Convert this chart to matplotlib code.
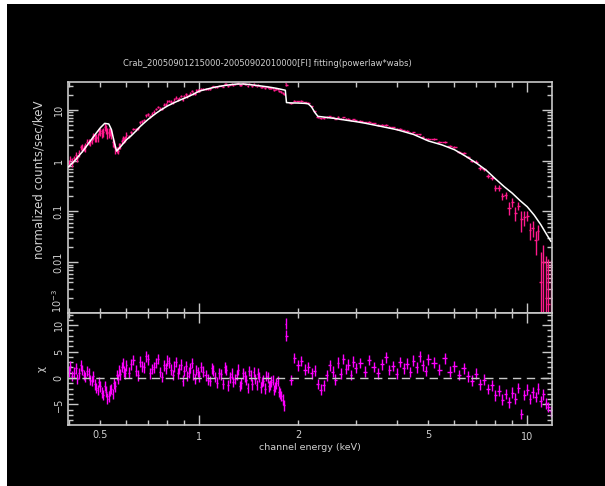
import numpy as np
import matplotlib.pyplot as plt
from matplotlib.patches import Rectangle
from matplotlib.ticker import FixedLocator, FixedFormatter, FuncFormatter, MultipleLocator

# spectral bins (keV)
energy = [0.40, 0.41, 0.42, 0.43, 0.44, 0.45, 0.46, 0.47, 0.48, 0.49, 0.50, 0.51, 0.52, 0.53, 0.54,
          0.55, 0.56, 0.57, 0.58, 0.59, 0.60,
          0.62, 0.64, 0.66, 0.68, 0.70, 0.72, 0.74, 0.76, 0.78, 0.80, 0.82, 0.84, 0.86, 0.88, 0.90,
          0.92, 0.94, 0.96, 0.98, 1.00,
          1.03, 1.06, 1.09, 1.12, 1.15, 1.18, 1.21, 1.24, 1.27, 1.30, 1.33, 1.36, 1.39, 1.42, 1.45,
          1.48, 1.51, 1.54, 1.57, 1.60, 1.63, 1.66, 1.69, 1.72, 1.75, 1.78, 1.81, 1.835, 1.845,
          1.90, 1.95, 2.00, 2.05, 2.10, 2.15, 2.20, 2.25, 2.30, 2.35, 2.40, 2.45, 2.50, 2.55, 2.60,
          2.65, 2.70, 2.75, 2.80, 2.85, 2.90, 2.95, 3.00,
          3.1, 3.2, 3.3, 3.4, 3.5, 3.6, 3.7, 3.8, 3.9, 4.0, 4.1, 4.2, 4.3, 4.4, 4.5, 4.6, 4.7, 4.8,
          4.9, 5.0,
          5.2, 5.4, 5.6, 5.8, 6.0, 6.2, 6.4, 6.6, 6.8, 7.0, 7.2, 7.4, 7.6, 7.8, 8.0, 8.2, 8.4, 8.6,
          8.8, 9.0, 9.2, 9.4, 9.6, 9.8, 10.0, 10.2, 10.4, 10.6, 10.8, 11.0, 11.2, 11.4, 11.6, 11.8]

# normalized counts/sec/keV
flux = [0.89, 0.95, 1.31, 1.41, 1.82, 1.85, 2.38, 2.49, 2.82, 2.96, 3.78, 3.70, 4.25, 3.63, 3.33,
        2.18, 1.64, 2.00, 2.42, 2.58, 3.22,
        3.66, 4.17, 5.72, 6.38, 8.22, 8.50, 10.4, 10.55, 12.7, 14.8, 14.5, 16.2, 15.9, 18.8, 18.5,
        18.5, 21.5, 21.5, 24.3, 24.0,
        25.8, 25.7, 28.9, 28.5, 30.1, 28.8, 32.4, 31.5, 31.1, 33.1, 30.8, 33.5, 31.8, 33.2, 29.9,
        30.5, 31.0, 27.9, 28.8, 29.2, 26.7, 27.1, 25.1, 25.8, 23.7, 22.5, 20.5, 33.5, 31.0,
        13.6, 15.3, 14.7, 15.0, 14.1, 14.0, 11.8, 9.4, 7.25, 6.87, 6.95, 7.26, 7.5, 7.15, 6.74,
        7.28, 6.71, 7.15, 6.62, 6.67, 6.21, 6.56, 6.24,
        6.18, 5.70, 5.84, 5.42, 5.03, 5.07, 5.08, 4.60, 4.54, 4.20, 4.28, 3.97, 3.89, 3.56, 3.63,
        3.31, 3.30, 2.98, 2.70, 2.71,
        2.63, 2.30, 2.33, 1.92, 1.83, 1.51, 1.43, 1.18, 0.99, 0.95, 0.72, 0.675, 0.50, 0.46, 0.295,
        0.296, 0.20, 0.21, 0.119, 0.153, 0.092, 0.131, 0.07, 0.077, 0.083, 0.043, 0.048, 0.028,
        0.041, 0.004, 0.010, 0.002, 0.0015, 0.001]

flux_err = [0.15, 0.18, 0.21, 0.25, 0.30, 0.36, 0.33, 0.40, 0.48, 0.58, 0.68, 0.78, 0.83, 0.80, 0.62,
            0.36, 0.23, 0.26, 0.30, 0.35, 0.39,
            0.22, 0.27, 0.33, 0.39, 0.46, 0.53, 0.61, 0.69, 0.76, 0.84, 0.91, 0.98, 1.05, 1.12, 1.19,
            1.26, 1.33, 1.44, 1.54, 1.65,
            0.87, 0.91, 0.95, 0.99, 1.02, 1.05, 1.08, 1.10, 1.12, 1.13, 1.14, 1.14, 1.13, 1.11, 1.09,
            1.07, 1.06, 1.04, 1.03, 1.01, 0.99, 0.97, 0.96, 0.93, 0.91, 0.89, 0.88, 1.2, 1.5,
            0.41, 0.41, 0.41, 0.41, 0.41, 0.40, 0.35, 0.27, 0.23, 0.22, 0.22, 0.21, 0.21, 0.21, 0.20,
            0.20, 0.20, 0.19, 0.19, 0.19, 0.18, 0.18, 0.18,
            0.17, 0.165, 0.16, 0.153, 0.147, 0.141, 0.137, 0.132, 0.128, 0.123, 0.118, 0.113, 0.108,
            0.104, 0.099, 0.094, 0.088, 0.083, 0.078, 0.074,
            0.115, 0.107, 0.10, 0.09, 0.083, 0.074, 0.066, 0.058, 0.051, 0.063, 0.055, 0.048, 0.048,
            0.042, 0.044, 0.039, 0.034, 0.03, 0.032, 0.028, 0.028, 0.025, 0.03, 0.025, 0.019, 0.016,
            0.017, 0.014, 0.014, 0.012, 0.0115, 0.011, 0.01, 0.01]

# residuals, (data - model) / error
chi = [1.2, 0.4, 1.8, 0.9, 1.5, 0.2, 0.8, -0.6, -1.2, -2.3, -1.6, -3.2, -2.6, -3.5, -2.1,
       -1.0, 0.6, 1.4, 2.1, 1.2, 2.4,
       2.6, 1.4, 3.1, 2.0, 3.5, 1.7, 2.8, 1.1, 2.4, 3.3, 1.6, 2.2, 0.9, 2.5, 1.3,
       0.4, 1.9, 0.7, 1.5, 0.3,
       1.2, -0.3, 1.8, 0.2, 0.9, -1.1, 1.5, 0.1, -0.8, 0.6, -1.5, 0.9, -0.4, 1.3, -1.2,
       -0.2, 0.8, -1.8, -0.5, 0.4, -1.6, -0.7, -2.3, -1.0, -2.6, -3.4, -5.2, 10.3, 8.0,
       -0.4, 3.8, 2.4, 3.2, 1.6, 2.0, 0.9, 1.4, -1.1, -2.2, -1.4, 0.5, 2.4, 1.2, -0.3,
       2.9, 0.8, 3.6, 1.7, 2.5, 0.6, 3.1, 1.9,
       2.8, 1.2, 3.4, 2.1, 0.9, 2.6, 3.9, 1.5, 2.3, 0.8, 3.0, 1.8, 2.7, 1.1, 3.3,
       2.0, 4.1, 2.4, 1.3, 3.5,
       2.9, 1.6, 3.7, 1.2, 2.2, 0.6, 1.8, 0.3, -0.5, 0.8, -1.2, -0.3, -2.1, -1.4, -3.3,
       -2.4, -4.1, -3.0, -4.6, -2.8, -3.9, -1.9, -6.8, -3.2, -2.2, -4.0, -2.7, -3.6,
       -2.0, -4.4, -3.1, -4.8, -5.5, -6.3]

# finer bins below 1.8 keV, where the count rate is high
energy_fine = [0.405, 0.415, 0.425, 0.435, 0.445, 0.455, 0.465, 0.475, 0.485, 0.495, 0.505, 0.515,
               0.525, 0.535, 0.545, 0.555, 0.565, 0.575, 0.585, 0.595,
               0.61, 0.63, 0.65, 0.67, 0.69, 0.71, 0.73, 0.75, 0.77, 0.79, 0.81, 0.83, 0.85, 0.87,
               0.89, 0.91, 0.93, 0.95, 0.97, 0.99,
               1.015, 1.045, 1.075, 1.105, 1.135, 1.165, 1.195, 1.225, 1.255, 1.285, 1.315, 1.345,
               1.375, 1.405, 1.435, 1.465, 1.495, 1.525, 1.555, 1.585, 1.615, 1.645, 1.675, 1.705,
               1.735, 1.765, 1.795]
flux_fine = [1.10, 1.11, 1.12, 1.83, 1.79, 2.36, 2.32, 3.01, 2.85, 3.84, 3.49, 4.71, 3.54, 3.76,
             2.34, 1.63, 1.59, 2.00, 2.75, 2.67,
             3.05, 4.27, 4.40, 5.94, 7.85, 7.55, 9.29, 11.58, 10.5, 12.9, 15.0, 14.1, 17.5, 17.3,
             15.9, 20.3, 19.8, 23.6, 20.9, 24.4,
             26.0, 25.8, 26.0, 29.2, 27.9, 30.3, 32.5, 29.6, 32.6, 32.0, 34.3, 31.4, 32.7, 30.0,
             32.1, 32.2, 29.1, 30.2, 28.7, 27.0, 28.6, 26.7, 27.1, 25.4, 25.8, 23.2, 21.6]
flux_err_fine = [0.12, 0.15, 0.17, 0.21, 0.25, 0.30, 0.36, 0.44, 0.53, 0.63, 0.73, 0.82, 0.82,
                 0.72, 0.48, 0.29, 0.24, 0.28, 0.32, 0.37,
                 0.20, 0.24, 0.30, 0.36, 0.43, 0.50, 0.57, 0.65, 0.72, 0.80, 0.88, 0.95, 1.02,
                 1.09, 1.16, 1.23, 1.30, 1.38, 1.48, 1.59,
                 0.85, 0.89, 0.93, 0.97, 1.01, 1.04, 1.06, 1.09, 1.11, 1.13, 1.14, 1.14, 1.13,
                 1.12, 1.10, 1.09, 1.07, 1.05, 1.03, 1.02, 1.00, 0.98, 0.96, 0.95, 0.92, 0.90, 0.88]
chi_fine = [2.3, 1.0, -0.2, 2.4, 0.6, 1.3, -0.4, 0.3, -1.9, -0.8, -2.8, -1.5, -3.9, -2.4, -3.0,
            -1.6, -0.2, 0.7, 2.8, 0.9,
            1.0, 3.4, 0.5, 2.2, 4.1, 0.9, 2.0, 3.6, 0.2, 1.8, 2.9, 0.6, 3.0, 1.7, -0.5, 2.3,
            1.0, 2.8, -0.2, 1.1,
            2.1, 0.5, -0.6, 1.4, -0.9, 0.7, 2.0, -1.4, 0.8, -0.2, 1.6, -1.0, 0.3, -1.9, 0.5,
            1.1, -1.3, 0.2, -0.8, -2.0, 0.1, -1.3, -0.4, -1.7, -0.6, -2.9, -4.1]

# folded powerlaw*wabs model
model_e = [0.40, 0.42, 0.44, 0.46, 0.48, 0.50, 0.515, 0.53, 0.54, 0.55, 0.56, 0.58, 0.60, 0.62,
           0.64, 0.66, 0.68, 0.70, 0.72, 0.74, 0.76, 0.80, 0.84, 0.88, 0.92, 0.96, 1.00, 1.06,
           1.12, 1.18, 1.24, 1.30, 1.36, 1.42, 1.48, 1.54, 1.60, 1.66, 1.72, 1.78, 1.83, 1.845,
           1.90, 2.00, 2.10, 2.15, 2.20, 2.25, 2.30, 2.40, 2.50, 2.60, 2.80, 3.00, 3.20, 3.50,
           4.00, 4.50, 5.00, 5.50, 6.00, 6.50, 7.00, 7.50, 8.00, 8.50, 9.00, 9.50, 10.0, 10.5,
           11.0, 11.5, 11.8]
model_f = [0.76, 1.05, 1.5, 2.2, 3.2, 4.5, 5.45, 5.3, 4.1, 2.4, 1.55, 2.0, 2.6, 3.1,
           3.8, 4.7, 5.6, 6.6, 7.6, 8.7, 9.8, 12.0, 14.0, 16.0, 18.0, 20.5, 23.5, 26.0,
           28.3, 30.0, 31.4, 32.4, 32.5, 31.8, 30.7, 29.8, 28.8, 27.8, 26.7, 25.5, 24.5, 14.0,
           13.8, 13.7, 13.5, 13.2, 11.5, 9.0, 7.5, 7.25, 7.0, 6.8, 6.3, 5.9, 5.5, 4.9,
           4.1, 3.3, 2.45, 2.05, 1.65, 1.22, 0.9, 0.65, 0.44, 0.31, 0.23, 0.165, 0.124, 0.085,
           0.055, 0.034, 0.026]

xlabels = [0.5, 1, 2, 5, 10]
title = "Crab_20050901215000-20050902010000[FI] fitting(powerlaw*wabs)"

fg = '#d0d0d0'
W, H = 605, 486

# merge both bin sets in energy order
e = np.concatenate([energy, energy_fine])
order = np.argsort(e)
e = e[order]
f = np.concatenate([flux, flux_fine])[order]
ferr = np.concatenate([flux_err, flux_err_fine])[order]
x2 = np.concatenate([chi, chi_fine])[order]
half = np.gradient(e) / 2

fig = plt.figure(figsize=(W / 100, H / 100), dpi=100, facecolor='black')
fig.add_artist(Rectangle((0, 0), 7 / W, 1, transform=fig.transFigure, color='white', lw=0))
fig.add_artist(Rectangle((0, 1 - 4 / H), 1, 4 / H, transform=fig.transFigure, color='white', lw=0))

ax1 = fig.add_axes([68 / W, 1 - 313 / H, 484 / W, 231 / H], facecolor='black')
ax2 = fig.add_axes([68 / W, 1 - 425 / H, 484 / W, 112 / H], facecolor='black')

ax1.errorbar(e, f, yerr=ferr, xerr=half, fmt='none', ecolor='#ff1a8c', elinewidth=1.0)
ax1.plot(model_e, model_f, color='white', lw=1.1, zorder=3)

ax2.errorbar(e, x2, yerr=1.0, xerr=half, fmt='none', ecolor='#ff00ff', elinewidth=1.0)
ax2.axhline(0, color='#c8c8c8', lw=1.0, ls=(0, (6, 4)), zorder=3)


def xfmt(v, pos):
    for t in xlabels:
        if abs(v - t) < 1e-6:
            return '%g' % t
    return ''


for ax in (ax1, ax2):
    ax.set_xscale('log')
    ax.set_xlim(0.398, 11.9)
    ax.xaxis.set_major_locator(FixedLocator([1, 10]))
    ax.xaxis.set_minor_locator(FixedLocator([0.4, 0.5, 0.6, 0.7, 0.8, 0.9, 2, 3, 4, 5, 6, 7, 8, 9]))
    ax.xaxis.set_major_formatter(FuncFormatter(xfmt))
    ax.xaxis.set_minor_formatter(FuncFormatter(xfmt))
    ax.tick_params(which='both', direction='in', top=True, right=True, colors='#c8c8c8',
                   labelcolor=fg, labelsize=7, width=1.0)
    ax.tick_params(which='major', length=7)
    ax.tick_params(which='minor', length=3.5)
    ax.tick_params(axis='y', labelrotation=90, pad=3)
    ax.tick_params(axis='x', pad=5)
    for sp in ax.spines.values():
        sp.set_color('#c8c8c8')
        sp.set_linewidth(1.2)

ax1.tick_params(which='both', labelbottom=False)

ax1.set_yscale('log')
ax1.set_ylim(1e-3, 35.6)
ax1.yaxis.set_major_locator(FixedLocator([1e-3, 1e-2, 0.1, 1, 10]))
ax1.yaxis.set_major_formatter(FixedFormatter([r'$10^{-3}$', '0.01', '0.1', '1', '10']))
ax1.yaxis.set_minor_locator(FixedLocator([m * 10.0 ** k for k in range(-3, 2) for m in range(2, 10)]))

ax2.set_ylim(-8.9, 12.3)
ax2.yaxis.set_major_locator(FixedLocator([-5, 0, 5, 10]))
ax2.yaxis.set_minor_locator(MultipleLocator(1))

for ax in (ax1, ax2):
    for lab in ax.get_yticklabels():
        lab.set_va('center')
# keep the lowest decade label above the panel boundary
ax1.get_yticklabels()[0].set_va('bottom')

ax1.set_ylabel('normalized counts/sec/keV', color=fg, fontsize=8.5)
ax1.yaxis.set_label_coords(-0.047, 0.576)
ax2.set_ylabel('χ', color=fg, fontsize=7.5)
ax2.yaxis.set_label_coords(-0.043, 0.5)
ax2.set_xlabel('channel energy (keV)', color=fg, fontsize=6.8)
ax2.xaxis.set_label_coords(0.5, -0.16)

fig.text(267 / W, 1 - 63 / H, title, ha='center', va='center', color=fg, fontsize=6.0)

fig.savefig('out.png', dpi=100, facecolor=fig.get_facecolor())
